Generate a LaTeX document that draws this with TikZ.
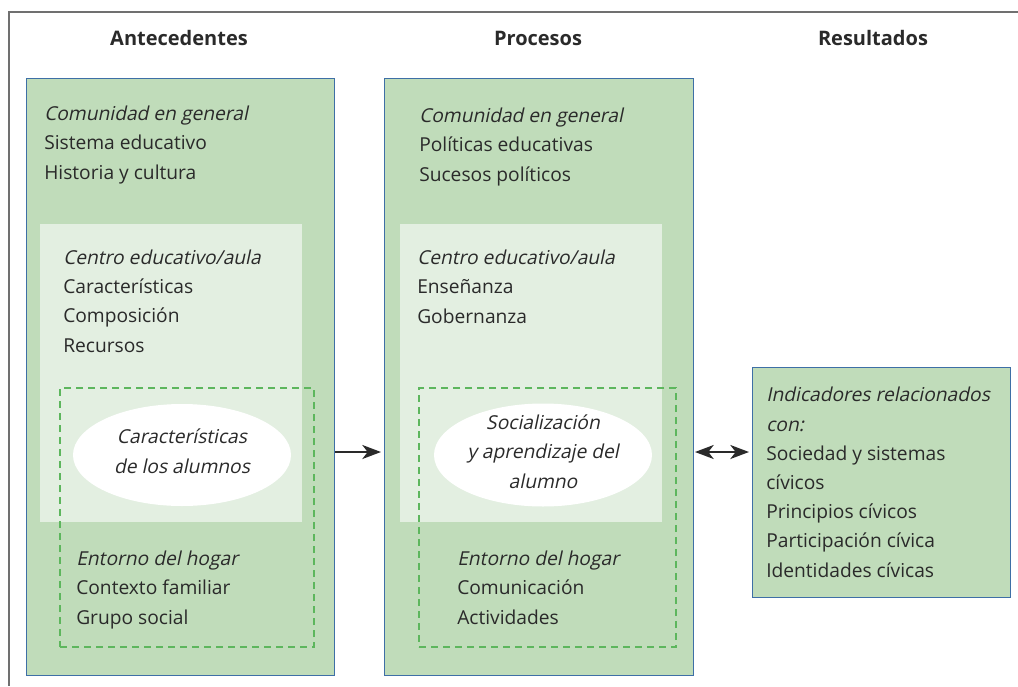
\documentclass[tikz,border=0pt]{standalone}
\usepackage{fontspec}
\setmainfont{Open Sans}[ItalicFont={Open Sans}, ItalicFeatures={FakeSlant=0.21}]
\usetikzlibrary{arrows.meta,shapes.geometric}
\definecolor{boxgreen}{HTML}{C0DCBA}
\definecolor{lightgreen}{HTML}{E3EFE1}
\definecolor{boxblue}{HTML}{3E6FA6}
\definecolor{dashgreen}{HTML}{5DB65D}
\definecolor{txt}{HTML}{2A2A2A}
\definecolor{framegray}{HTML}{707070}
\tikzset{
  box/.style={anchor=north west, inner sep=0pt, outer sep=0pt},
  outerbox/.style={box, draw=boxblue, line width=0.7pt, fill=boxgreen},
  innerbox/.style={box, fill=lightgreen},
  dashbox/.style={box, draw=dashgreen, line width=1.3pt, dash pattern=on 5pt off 4pt},
  oval/.style={ellipse, fill=white, draw=none, inner sep=0pt},
  lines/.style={anchor=base west, align=left, inner sep=0pt, text=txt,
    font=\fontsize{14.4pt}{21.9pt}\selectfont},
  ctext/.style={anchor=base, align=center, inner sep=0pt, text=txt,
    font=\fontsize{14.4pt}{21.9pt}\selectfont\itshape},
  header/.style={anchor=base, inner sep=0pt, text=txt, font=\fontsize{15pt}{18pt}\selectfont\bfseries},
  arr/.style={line width=1.6pt, draw=txt, -{Stealth[length=14pt,width=10.5pt,inset=4pt]}},
  darr/.style={line width=1.6pt, draw=txt, {Stealth[length=14pt,width=10.5pt,inset=4pt]}-{Stealth[length=14pt,width=10.5pt,inset=4pt]}}
}
\begin{document}
\begin{tikzpicture}[x=0.75pt,y=-0.75pt]
\useasboundingbox (0,0) rectangle (1018,686);
% frame
\draw[framegray, line width=1.2pt] (1018,12) -- (9,12) -- (9,686);
% headers
\node[header] (h1) at (179,45) {Antecedentes};
\node[header] (h2) at (538,45) {Procesos};
\node[header] (h3) at (873,45) {Resultados};
% left column
\node[outerbox, minimum width={308*0.75pt}, minimum height={597*0.75pt}] (L) at (26,78) {};
\node[innerbox, minimum width={262*0.75pt}, minimum height={298*0.75pt}] (Li) at (40,224) {};
\node[dashbox, minimum width={254*0.75pt}, minimum height={259*0.75pt}] (Ld) at (60,388) {};
\node[oval, minimum width={218*0.75pt}, minimum height={102*0.75pt}] (Le) at (182,455) {};
\node[ctext] (Let) at (182,473) {Características\\de los alumnos};
\node[lines] (L1) at (44,179) {\itshape Comunidad en general\\Sistema educativo\\Historia y cultura};
\node[lines] (L2) at (63,352) {\itshape Centro educativo/aula\\Características\\Composición\\Recursos};
\node[lines] (L3) at (76,624) {\itshape Entorno del hogar\\Contexto familiar\\Grupo social};
% middle column
\node[outerbox, minimum width={309*0.75pt}, minimum height={597*0.75pt}] (M) at (384,78) {};
\node[innerbox, minimum width={262*0.75pt}, minimum height={298*0.75pt}] (Mi) at (400,224) {};
\node[dashbox, minimum width={257*0.75pt}, minimum height={259*0.75pt}] (Md) at (419,388) {};
\node[oval, minimum width={218*0.75pt}, minimum height={103*0.75pt}] (Me) at (543,455) {};
\node[ctext] (Met) at (543,488) {Socialización\\y aprendizaje del\\alumno};
\node[lines] (M1) at (419,181) {\itshape Comunidad en general\\Políticas educativas\\Sucesos políticos};
\node[lines] (M2) at (417,323) {\itshape Centro educativo/aula\\Enseñanza\\Gobernanza};
\node[lines] (M3) at (457,624) {\itshape Entorno del hogar\\Comunicación\\Actividades};
% right box
\node[outerbox, minimum width={258*0.75pt}, minimum height={230*0.75pt}] (R) at (752,367) {};
\node[lines] (R1) at (766,577) {\itshape Indicadores relacionados\\\itshape con:\\Sociedad y sistemas\\cívicos\\Principios cívicos\\Participación cívica\\Identidades cívicas};
% arrows
\coordinate (a1) at (335,452);
\coordinate (a2) at (381,452);
\coordinate (b1) at (695,452);
\coordinate (b2) at (749,452);
\draw[arr] (a1) -- (a2);
\draw[darr] (b1) -- (b2);
\end{tikzpicture}
\end{document}
